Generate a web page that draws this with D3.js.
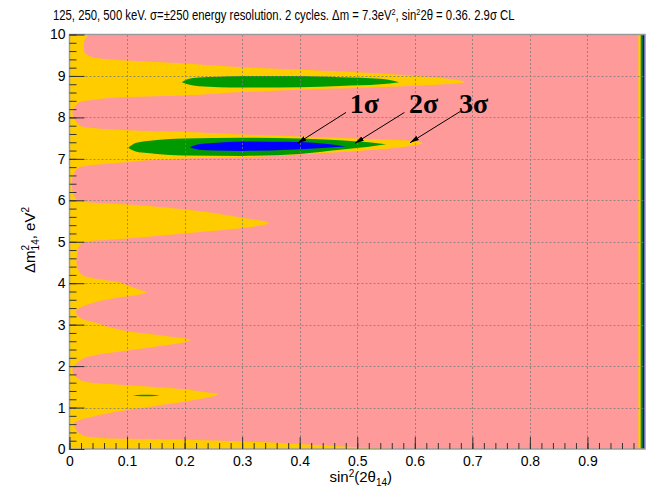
<!DOCTYPE html>
<html>
<head>
<meta charset="utf-8">
<script src="https://cdn.jsdelivr.net/npm/d3@7"></script>
<style>
  body { margin: 0; background: #fff; }
</style>
</head>
<body>
<div id="chart"></div>
<script>
// 3 sigma contour: right edge in sin^2(2theta) for each dm^2  [dm2, sin2]
const yellowEdge = [
    [0.00, 0.56], [0.04, 0.50], [0.10, 0.42], [0.16, 0.34], [0.22, 0.22], [0.26, 0.06],
    [0.32, 0.025], [0.45, 0.012], [0.63, 0.008], [0.78, 0.04], [0.87, 0.07], [0.94, 0.10],
    [1.04, 0.15], [1.14, 0.20], [1.24, 0.24], [1.32, 0.258], [1.38, 0.23], [1.44, 0.20],
    [1.54, 0.10], [1.58, 0.053], [1.65, 0.02], [1.90, 0.005], [2.10, 0.015], [2.25, 0.04],
    [2.35, 0.088], [2.45, 0.14], [2.55, 0.19], [2.63, 0.21], [2.72, 0.17], [2.82, 0.11],
    [2.92, 0.075], [3.03, 0.05], [3.15, 0.02], [3.31, 0.011], [3.50, 0.035], [3.63, 0.075],
    [3.72, 0.12], [3.78, 0.134], [3.85, 0.12], [3.95, 0.10], [4.03, 0.085], [4.08, 0.06],
    [4.15, 0.03], [4.30, 0.016], [4.55, 0.012], [4.75, 0.014], [4.87, 0.016], [5.00, 0.027],
    [5.08, 0.10], [5.20, 0.20], [5.33, 0.30], [5.45, 0.346], [5.58, 0.30], [5.78, 0.20],
    [5.90, 0.10], [5.96, 0.027], [6.05, 0.01], [6.40, 0.004], [6.65, 0.008], [6.80, 0.018],
    [6.92, 0.10], [7.01, 0.20], [7.04, 0.30], [7.11, 0.40], [7.19, 0.50], [7.33, 0.60],
    [7.37, 0.613], [7.43, 0.60], [7.49, 0.50], [7.54, 0.40], [7.59, 0.30], [7.65, 0.20],
    [7.69, 0.10], [7.80, 0.018], [7.90, 0.012], [8.10, 0.005], [8.30, 0.012], [8.37, 0.018],
    [8.42, 0.04], [8.49, 0.10], [8.53, 0.20], [8.61, 0.30], [8.67, 0.40], [8.71, 0.50],
    [8.77, 0.61], [8.85, 0.686], [8.99, 0.61], [9.09, 0.50], [9.15, 0.40], [9.21, 0.30],
    [9.30, 0.20], [9.37, 0.10], [9.45, 0.04], [9.60, 0.025], [9.80, 0.025], [10.0, 0.035]
];

// 2 sigma islands  [sin2, dm2 low, dm2 high]
const greenTop = [
    [0.195, 8.85, 8.85], [0.205, 8.80, 8.92], [0.225, 8.75, 8.96], [0.26, 8.73, 8.98],
    [0.30, 8.72, 9.00], [0.40, 8.73, 9.00], [0.47, 8.76, 8.97], [0.54, 8.80, 8.93], [0.573, 8.85, 8.85]
];
const greenMid = [
    [0.102, 7.27, 7.27], [0.115, 7.18, 7.38], [0.136, 7.14, 7.43], [0.20, 7.08, 7.49],
    [0.30, 7.07, 7.51], [0.40, 7.12, 7.49], [0.47, 7.22, 7.45], [0.52, 7.29, 7.40], [0.55, 7.35, 7.35]
];
const greenLow = [
    [0.11, 1.29, 1.29], [0.125, 1.27, 1.31], [0.14, 1.27, 1.31], [0.157, 1.29, 1.29]
];
// 1 sigma island
const blueMid = [
    [0.209, 7.28, 7.28], [0.225, 7.22, 7.35], [0.25, 7.20, 7.38], [0.30, 7.19, 7.42],
    [0.38, 7.22, 7.41], [0.44, 7.26, 7.37], [0.48, 7.30, 7.30]
];
// narrow bands at sin2 -> 1
const edgeStart = [0.9885, 0.9925, 0.996];

const xTicks = [0, 0.1, 0.2, 0.3, 0.4, 0.5, 0.6, 0.7, 0.8, 0.9];
const xTickLabels = ["0", "0.1", "0.2", "0.3", "0.4", "0.5", "0.6", "0.7", "0.8", "0.9"];
const yTicks = [0, 1, 2, 3, 4, 5, 6, 7, 8, 9, 10];
const yTickLabels = ["0", "1", "2", "3", "4", "5", "6", "7", "8", "9", "10"];

const sigmaLabels = ["1σ", "2σ", "3σ"];
const sigmaTextAt = [[0.487, 8.1], [0.590, 8.1], [0.677, 8.1]];
const arrowFrom = [[0.4805, 8.12], [0.582, 8.12], [0.6786, 8.14]];
const arrowTo = [[0.396, 7.375], [0.496, 7.375], [0.5917, 7.39]];

const COL = { pink: "#ff9a9a", yellow: "#ffcc00", green: "#009a00", blue: "#0000ff" };
const SANS = "'Liberation Sans', Arial, Helvetica, sans-serif";

const width = 646, height = 489;
const x = d3.scaleLinear().domain([0, 1]).range([69.5, 645]);
const y = d3.scaleLinear().domain([0, 10]).range([449, 34.5]);

const svg = d3.select("#chart").append("svg")
    .attr("width", width)
    .attr("height", height)
    .style("font-family", SANS);

const defs = svg.append("defs");
defs.append("clipPath").attr("id", "plot")
    .append("rect")
    .attr("x", x(0)).attr("y", y(10))
    .attr("width", x(1) - x(0)).attr("height", y(0) - y(10));

defs.append("marker")
    .attr("id", "arr")
    .attr("markerUnits", "userSpaceOnUse")
    .attr("markerWidth", 9).attr("markerHeight", 6)
    .attr("refX", 9).attr("refY", 3)
    .attr("orient", "auto")
    .append("path").attr("d", "M0,0.5 L9,3 L0,5.5 Z").attr("fill", "#000");

const plot = svg.append("g").attr("clip-path", "url(#plot)");

plot.append("rect")
    .attr("x", x(0)).attr("y", y(10))
    .attr("width", x(1) - x(0)).attr("height", y(0) - y(10))
    .attr("fill", COL.pink);

const edgeArea = d3.area()
    .curve(d3.curveMonotoneY)
    .y(d => y(d[0]))
    .x0(x(0))
    .x1(d => x(d[1]));

plot.append("path").attr("d", edgeArea(yellowEdge)).attr("fill", COL.yellow);

const island = d3.area()
    .curve(d3.curveMonotoneX)
    .x(d => x(d[0]))
    .y0(d => y(d[1]))
    .y1(d => y(d[2]));

[greenTop, greenMid, greenLow].forEach(g => {
    plot.append("path").attr("d", island(g)).attr("fill", COL.green);
});
plot.append("path").attr("d", island(blueMid)).attr("fill", COL.blue);

[COL.yellow, COL.green, COL.blue].forEach((c, i) => {
    plot.append("rect")
        .attr("x", x(edgeStart[i])).attr("y", y(10))
        .attr("width", x(1) - x(edgeStart[i])).attr("height", y(0) - y(10))
        .attr("fill", c);
});

// grid
const grid = svg.append("g").attr("stroke", "#7a7a7a").attr("stroke-width", 1)
    .attr("stroke-dasharray", "2,2").attr("opacity", 0.75);
xTicks.filter(v => v > 0).forEach(v => {
    grid.append("line")
        .attr("x1", Math.round(x(v)) + 0.5).attr("x2", Math.round(x(v)) + 0.5)
        .attr("y1", y(0)).attr("y2", y(10));
});
yTicks.filter(v => v > 0 && v < 10).forEach(v => {
    grid.append("line")
        .attr("x1", x(0)).attr("x2", x(1))
        .attr("y1", Math.round(y(v)) + 0.5).attr("y2", Math.round(y(v)) + 0.5);
});

// frame
svg.append("rect")
    .attr("x", x(0)).attr("y", y(10))
    .attr("width", x(1) - x(0)).attr("height", y(0) - y(10))
    .attr("fill", "none").attr("stroke", "#9a9a9a").attr("stroke-width", 1.5);

// axes
const yAxis = svg.append("g")
    .attr("transform", `translate(${x(0)},0)`)
    .call(d3.axisLeft(y).tickValues(yTicks).tickFormat((d, i) => yTickLabels[i])
        .tickSizeInner(-15).tickSizeOuter(0).tickPadding(4));
const yMinor = svg.append("g")
    .attr("transform", `translate(${x(0)},0)`)
    .call(d3.axisLeft(y).tickValues(d3.range(0, 10.01, 0.2)).tickFormat("")
        .tickSizeInner(-7).tickSizeOuter(0));
const xAxis = svg.append("g")
    .attr("transform", `translate(0,${y(0)})`)
    .call(d3.axisBottom(x).tickValues(xTicks).tickFormat((d, i) => xTickLabels[i])
        .tickSizeInner(-12).tickSizeOuter(0).tickPadding(7));
const xMinor = svg.append("g")
    .attr("transform", `translate(0,${y(0)})`)
    .call(d3.axisBottom(x).tickValues(d3.range(0, 0.99, 0.02)).tickFormat("")
        .tickSizeInner(-6).tickSizeOuter(0));

[yAxis, yMinor, xAxis, xMinor].forEach(a => {
    a.attr("font-family", null);
    a.select(".domain").remove();
    a.selectAll(".tick line").attr("stroke", "#333");
    a.selectAll(".tick text")
        .style("font-family", SANS)
        .attr("font-size", 14).attr("fill", "#000");
});

// title, squeezed to the reference width
const title = svg.append("text")
    .style("font-family", "'Liberation Sans Narrow', 'Arial Narrow', 'Liberation Sans', sans-serif")
    .attr("font-size", 14);
title.append("tspan").text("125, 250, 500 keV. σ=±250 energy resolution. 2 cycles. Δm = 7.3eV");
title.append("tspan").attr("dy", -5).attr("font-size", 9).text("2");
title.append("tspan").attr("dy", 5).text(", sin");
title.append("tspan").attr("dy", -5).attr("font-size", 9).text("2");
title.append("tspan").attr("dy", 5).text("2θ = 0.36. 2.9σ CL");
const tlen = title.node().getComputedTextLength();
title.attr("transform", `translate(53,20) scale(${462 / tlen},1)`);

// x title
const xt = svg.append("text")
    .attr("x", 392).attr("y", 482)
    .attr("text-anchor", "end")
    .attr("font-size", 15);
xt.append("tspan").text("sin");
xt.append("tspan").attr("dy", -5).attr("font-size", 10).text("2");
xt.append("tspan").attr("dy", 5).text("(2θ");
xt.append("tspan").attr("dy", 4).attr("font-size", 10).text("14");
xt.append("tspan").attr("dy", -4).text(")");

// y title
const yt = svg.append("text")
    .attr("transform", "translate(35,240) rotate(-90)")
    .attr("text-anchor", "middle")
    .attr("font-size", 15);
yt.append("tspan").text("Δm");
yt.append("tspan").attr("dy", -6).attr("font-size", 10).text("2");
yt.append("tspan").attr("dx", -5.5).attr("dy", 10).attr("font-size", 10).text("14");
yt.append("tspan").attr("dy", -4).text(", eV");
yt.append("tspan").attr("dy", -6).attr("font-size", 10).text("2");

// sigma labels with arrows
sigmaLabels.forEach((lab, i) => {
    svg.append("line")
        .attr("x1", x(arrowFrom[i][0])).attr("y1", y(arrowFrom[i][1]))
        .attr("x2", x(arrowTo[i][0])).attr("y2", y(arrowTo[i][1]))
        .attr("stroke", "#000").attr("stroke-width", 1)
        .attr("marker-end", "url(#arr)");
    svg.append("text")
        .attr("x", x(sigmaTextAt[i][0])).attr("y", y(sigmaTextAt[i][1]))
        .style("font-family", "'Liberation Serif', 'Times New Roman', serif")
        .attr("font-weight", "bold")
        .attr("font-size", 28)
        .text(lab);
});
</script>
</body>
</html>
